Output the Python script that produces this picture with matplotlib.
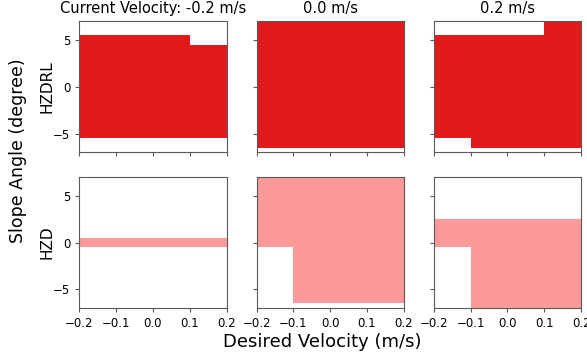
import numpy as np
import matplotlib
matplotlib.use("Agg")
import matplotlib.pyplot as plt

# desired-velocity cells (left edges, width 0.1 m/s)
vel_left = [-0.2, -0.1, 0.0, 0.1]
cell_w = 0.1

current_vel = ["-0.2", "0.0", "0.2"]
row_names = ["HZDRL", "HZD"]

# feasible slope range per velocity cell: (lower, upper), degrees
hzdrl_lo = [[-5.5, -5.5, -5.5, -5.5],
            [-6.5, -6.5, -6.5, -6.5],
            [-5.5, -6.5, -6.5, -6.5]]
hzdrl_hi = [[5.5, 5.5, 5.5, 4.5],
            [7.5, 7.5, 7.5, 7.5],
            [5.5, 5.5, 5.5, 7.5]]
hzd_lo = [[-0.5, -0.5, -0.5, -0.5],
          [-0.5, -6.5, -6.5, -6.5],
          [-0.5, -7.5, -7.5, -7.5]]
hzd_hi = [[0.5, 0.5, 0.5, 0.5],
          [7.5, 7.5, 7.5, 7.5],
          [2.5, 2.5, 2.5, 2.5]]

colors = ["#e31a1c", "#fb9a99"]

plt.rcParams.update({"xtick.labelsize": 8.5, "ytick.labelsize": 8.5,
                     "xtick.major.size": 3, "ytick.major.size": 3,
                     "axes.edgecolor": "0.35", "xtick.color": "0.35",
                     "ytick.color": "0.35", "xtick.labelcolor": "black",
                     "ytick.labelcolor": "black"})

fig, axes = plt.subplots(2, 3, figsize=(5.87, 3.56), dpi=100, sharex=True, sharey=True)
fig.subplots_adjust(left=0.135, right=0.99, top=0.94, bottom=0.135, wspace=0.204, hspace=0.19)

for r, (lo_all, hi_all) in enumerate([(hzdrl_lo, hzdrl_hi), (hzd_lo, hzd_hi)]):
    for c in range(3):
        ax = axes[r, c]
        lo = np.array(lo_all[c]); hi = np.array(hi_all[c])
        ax.bar(vel_left, hi - lo, bottom=lo, width=cell_w, align="edge",
               color=colors[r], linewidth=0)
        ax.set_xlim(-0.2, 0.2)
        ax.set_ylim(-7, 7)
        ax.set_yticks([-5, 0, 5])
        ax.set_xticks([-0.2, -0.1, 0.0, 0.1, 0.2])
    axes[r, 0].set_ylabel(row_names[r], fontsize=11, labelpad=-1)

axes[0, 0].set_title(f"Current Velocity: {current_vel[0]} m/s", fontsize=10.5)
axes[0, 1].set_title(f"{current_vel[1]} m/s", fontsize=10.5)
axes[0, 2].set_title(f"{current_vel[2]} m/s", fontsize=10.5)

fig.supylabel("Slope Angle (degree)", fontsize=12.5, x=0.015, y=0.576)
fig.supxlabel("Desired Velocity (m/s)", fontsize=13, x=0.549, y=0.015)

fig.savefig("out.png", dpi=100)
